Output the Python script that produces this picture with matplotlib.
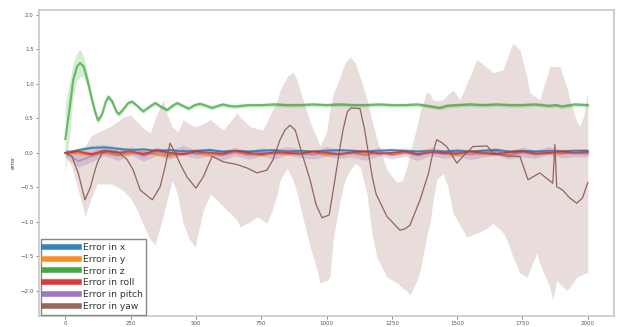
import numpy as np
from matplotlib import pyplot as plt

# error in z (green)
z_t = [0, 15, 30, 45, 57, 70, 85, 100, 115, 125, 140, 155, 165, 180, 195, 205, 220, 240,
       256, 275, 298, 320, 344, 365, 390, 410, 428, 450, 472, 495, 516, 540, 562, 585,
       604, 625, 650, 700, 750, 800, 850, 900, 950, 1000, 1050, 1100, 1150, 1200, 1250,
       1300, 1350, 1400, 1434, 1460, 1500, 1550, 1600, 1650, 1700, 1750, 1800, 1850,
       1880, 1900, 1950, 2000]
z_mean = [0.20, 0.60, 1.05, 1.25, 1.30, 1.25, 1.05, 0.80, 0.58, 0.47, 0.55, 0.74, 0.81,
          0.74, 0.60, 0.56, 0.62, 0.72, 0.74, 0.68, 0.60, 0.66, 0.72, 0.67, 0.62, 0.68,
          0.72, 0.68, 0.64, 0.69, 0.71, 0.68, 0.65, 0.68, 0.70, 0.68, 0.67, 0.69, 0.69,
          0.70, 0.69, 0.69, 0.70, 0.69, 0.70, 0.69, 0.69, 0.70, 0.69, 0.69, 0.70, 0.67,
          0.65, 0.68, 0.69, 0.70, 0.69, 0.70, 0.69, 0.69, 0.70, 0.68, 0.69, 0.67, 0.70, 0.69]
z_sd = [0.50, 0.40, 0.25, 0.20, 0.20, 0.15, 0.10, 0.08, 0.06, 0.05, 0.04, 0.04, 0.04,
        0.04, 0.04, 0.04, 0.03, 0.03, 0.03, 0.03, 0.03, 0.03, 0.03, 0.03, 0.03, 0.03,
        0.03, 0.03, 0.03, 0.03, 0.03, 0.03, 0.03, 0.03, 0.03, 0.03, 0.03, 0.03, 0.03,
        0.03, 0.03, 0.03, 0.03, 0.03, 0.03, 0.03, 0.03, 0.03, 0.03, 0.03, 0.03, 0.03,
        0.03, 0.03, 0.03, 0.03, 0.03, 0.03, 0.03, 0.03, 0.03, 0.03, 0.03, 0.03, 0.03, 0.03]

# error in yaw (brown) mean line
yaw_t = [0, 25, 50, 75, 96, 110, 122, 141, 170, 200, 237, 260, 287, 333, 363, 382, 401,
         420, 445, 466, 500, 528, 562, 604, 658, 696, 734, 772, 795, 822, 841, 860, 880,
         910, 937, 960, 983, 1010, 1032, 1052, 1063, 1080, 1095, 1128, 1145, 1160, 1175,
         1190, 1231, 1281, 1300, 1319, 1358, 1390, 1407, 1422, 1440, 1460, 1499, 1522,
         1560, 1614, 1637, 1690, 1740, 1771, 1816, 1866, 1874, 1881, 1904, 1930, 1958,
         1980, 2000]
yaw_mean = [0.00, -0.05, -0.30, -0.68, -0.50, -0.30, -0.15, 0.00, 0.03, 0.02, -0.10,
            -0.25, -0.54, -0.68, -0.49, -0.20, 0.14, 0.00, -0.20, -0.35, -0.51, -0.35,
            -0.05, -0.13, -0.17, -0.22, -0.29, -0.25, -0.10, 0.19, 0.33, 0.40, 0.33,
            -0.06, -0.39, -0.75, -0.94, -0.90, -0.39, 0.09, 0.33, 0.60, 0.65, 0.64, 0.35,
            0.00, -0.35, -0.60, -0.92, -1.12, -1.10, -1.05, -0.68, -0.30, 0.00, 0.19,
            0.15, 0.09, -0.15, -0.05, 0.09, 0.10, 0.00, -0.05, -0.05, -0.39, -0.29,
            -0.44, 0.12, -0.49, -0.54, -0.65, -0.73, -0.65, -0.43]

# yaw spread band (upper / lower edge)
band_t = [0, 25, 50, 76, 100, 122, 172, 199, 222, 249, 275, 300, 325, 344, 375, 390, 409,
          430, 451, 475, 497, 528, 555, 581, 604, 631, 658, 669, 707, 734, 757, 772, 790,
          811, 822, 849, 872, 887, 910, 937, 964, 975, 1000, 1013, 1025, 1052, 1070, 1090,
          1110, 1128, 1155, 1175, 1193, 1231, 1270, 1290, 1308, 1319, 1346, 1358, 1384,
          1396, 1407, 1422, 1446, 1465, 1484, 1511, 1537, 1576, 1610, 1637, 1675, 1690,
          1713, 1740, 1767, 1778, 1805, 1816, 1843, 1855, 1866, 1881, 1893, 1920, 1931,
          1958, 1969, 1985, 1996, 2000]
band_hi = [0.05, 0.05, 0.05, 0.10, 0.25, 0.29, 0.38, 0.45, 0.52, 0.55, 0.45, 0.35, 0.29,
           0.50, 0.77, 0.55, 0.38, 0.30, 0.48, 0.42, 0.38, 0.42, 0.48, 0.40, 0.33, 0.45,
           0.58, 0.52, 0.38, 0.35, 0.33, 0.45, 0.60, 0.75, 0.90, 1.10, 1.17, 1.05, 0.77,
           0.45, 0.20, 0.10, 0.30, 0.62, 0.85, 1.10, 1.30, 1.39, 1.30, 1.10, 0.77, 0.45,
           0.19, -0.25, -0.43, -0.40, -0.20, 0.00, 0.38, 0.60, 0.88, 0.85, 0.77, 0.75,
           0.77, 0.85, 0.91, 0.77, 1.00, 1.35, 1.25, 1.16, 1.20, 1.35, 1.59, 1.49, 1.10,
           0.87, 0.80, 0.77, 1.10, 1.25, 1.25, 1.25, 1.25, 0.95, 0.77, 0.45, 0.38, 0.55,
           0.81, 0.85]
band_lo = [-0.05, -0.20, -0.55, -0.92, -0.65, -0.45, -0.45, -0.49, -0.55, -0.65, -0.83,
           -1.05, -1.25, -1.33, -0.90, -0.68, -0.40, -0.60, -1.02, -1.25, -1.36, -0.83,
           -0.60, -0.68, -0.78, -0.87, -0.98, -1.07, -1.00, -0.93, -0.98, -1.02, -0.85,
           -0.60, -0.40, -0.22, -0.40, -0.58, -0.95, -1.36, -1.70, -1.88, -1.85, -1.80,
           -1.26, -0.68, -0.40, -0.25, -0.15, -0.20, -0.60, -1.20, -1.51, -1.80, -1.88,
           -1.95, -2.00, -2.06, -1.85, -1.70, -1.20, -1.02, -0.70, -0.39, -0.30, -0.50,
           -0.87, -1.05, -1.22, -1.16, -1.10, -1.02, -1.15, -1.26, -1.50, -1.74, -1.80,
           -1.70, -1.45, -1.60, -1.84, -1.95, -2.13, -1.84, -1.90, -1.99, -1.95, -1.80,
           -1.78, -1.75, -1.74, -1.74]

# small errors, every 50 steps
t50 = list(range(0, 2001, 50))
x_err = [0.0, 0.04, 0.07, 0.08, 0.06, 0.04, 0.05, 0.03, 0.04, 0.02, 0.03, 0.04, 0.02, 0.03,
         0.02, 0.03, 0.04, 0.02, 0.03, 0.02, 0.03, 0.04, 0.03, 0.02, 0.03, 0.04, 0.03, 0.02,
         0.03, 0.02, 0.03, 0.02, 0.03, 0.04, 0.02, 0.03, 0.02, 0.03, 0.02, 0.03, 0.03]
y_err = [0.0, -0.01, -0.02, 0.0, -0.03, -0.01, 0.01, -0.02, -0.04, -0.01, 0.0, -0.03, -0.02,
         0.01, -0.02, -0.03, 0.0, -0.02, -0.01, 0.01, -0.03, -0.01, 0.0, -0.02, 0.01, -0.03,
         0.0, -0.02, 0.02, -0.01, -0.03, 0.01, -0.02, 0.0, -0.03, 0.01, -0.02, 0.0, -0.01,
         0.01, -0.01]
roll_err = [0.0, 0.02, -0.02, 0.03, 0.0, 0.02, -0.02, 0.04, 0.0, -0.02, 0.02, 0.0, -0.01,
            0.03, 0.0, -0.02, 0.01, 0.0, -0.01, 0.02, 0.0, -0.02, 0.01, 0.02, -0.01, 0.0,
            0.02, -0.02, 0.01, 0.0, -0.01, 0.02, 0.0, -0.02, 0.01, 0.02, -0.01, 0.0, 0.02,
            0.0, 0.01]
pitch_err = [0.0, -0.12, -0.05, 0.02, -0.04, 0.03, -0.05, 0.02, -0.03, 0.04, -0.02, 0.01,
             -0.04, 0.02, -0.03, 0.01, -0.02, 0.03, -0.01, -0.03, 0.02, -0.02, 0.0, -0.04,
             0.02, -0.03, 0.01, -0.04, 0.02, -0.02, 0.01, -0.03, 0.0, 0.02, -0.03, 0.01,
             -0.02, 0.03, -0.01, 0.0, 0.0]
x_sd = [0.02, 0.03, 0.04, 0.04, 0.03, 0.03, 0.03, 0.02, 0.03, 0.02, 0.02, 0.03, 0.02, 0.02,
        0.02, 0.03, 0.02, 0.02, 0.02, 0.02, 0.03, 0.02, 0.02, 0.02, 0.02, 0.03, 0.02, 0.02,
        0.02, 0.02, 0.02, 0.02, 0.03, 0.02, 0.02, 0.02, 0.02, 0.02, 0.02, 0.02, 0.02]
y_sd = [0.02, 0.02, 0.03, 0.03, 0.02, 0.02, 0.02, 0.02, 0.03, 0.02, 0.02, 0.02, 0.02, 0.02,
        0.02, 0.02, 0.02, 0.02, 0.02, 0.02, 0.02, 0.02, 0.02, 0.02, 0.02, 0.02, 0.02, 0.02,
        0.02, 0.02, 0.02, 0.02, 0.02, 0.02, 0.02, 0.02, 0.02, 0.02, 0.02, 0.02, 0.02]
roll_sd = [0.02, 0.03, 0.03, 0.03, 0.02, 0.02, 0.02, 0.03, 0.02, 0.02, 0.02, 0.02, 0.02,
           0.02, 0.02, 0.02, 0.02, 0.02, 0.02, 0.02, 0.02, 0.02, 0.02, 0.02, 0.02, 0.02,
           0.02, 0.02, 0.02, 0.02, 0.02, 0.02, 0.02, 0.02, 0.02, 0.02, 0.02, 0.02, 0.02,
           0.02, 0.02]
pitch_sd = [0.05, 0.09, 0.08, 0.06, 0.07, 0.06, 0.07, 0.06, 0.06, 0.07, 0.06, 0.06, 0.07,
            0.06, 0.06, 0.06, 0.07, 0.06, 0.06, 0.06, 0.07, 0.06, 0.06, 0.07, 0.06, 0.06,
            0.06, 0.07, 0.06, 0.06, 0.06, 0.07, 0.06, 0.06, 0.06, 0.07, 0.06, 0.06, 0.06,
            0.06, 0.06]

labels = ["Error in x", "Error in y", "Error in z", "Error in roll", "Error in pitch", "Error in yaw"]
colors = ["#1f77b4", "#ff7f0e", "#2ca02c", "#d62728", "#9467bd", "#8c564b"]

fig = plt.figure(figsize=(6.22, 3.27), dpi=100)
ax = fig.add_axes([0.063, 0.034, 0.924, 0.936])

def band(t, m, s, c, a):
    m = np.array(m)
    s = np.array(s)
    ax.fill_between(t, m - s, m + s, color=c, alpha=a, linewidth=0)

# order in legend: x, y, z, roll, pitch, yaw
ax.plot(t50, x_err, color=colors[0], lw=1.3, alpha=0.85, label=labels[0])
band(t50, x_err, x_sd, colors[0], 0.2)
ax.plot(t50, y_err, color=colors[1], lw=1.3, alpha=0.85, label=labels[1])
band(t50, y_err, y_sd, colors[1], 0.2)
ax.plot(z_t, z_mean, color=colors[2], lw=1.6, alpha=0.65, label=labels[2])
band(z_t, z_mean, z_sd, colors[2], 0.2)
ax.plot(t50, roll_err, color=colors[3], lw=1.3, alpha=0.85, label=labels[3])
band(t50, roll_err, roll_sd, colors[3], 0.2)
ax.plot(t50, pitch_err, color=colors[4], lw=1.0, alpha=0.6, label=labels[4])
band(t50, pitch_err, pitch_sd, colors[4], 0.25)
ax.plot(yaw_t, yaw_mean, color=colors[5], lw=0.9, alpha=0.9, label=labels[5])
ax.fill_between(band_t, band_lo, band_hi, color=colors[5], alpha=0.2, linewidth=0)

ax.set_xlim(-100, 2100)
ax.set_ylim(-2.36, 2.07)
ax.set_xticks([0, 250, 500, 750, 1000, 1250, 1500, 1750, 2000])
ax.set_yticks([-2.0, -1.5, -1.0, -0.5, 0.0, 0.5, 1.0, 1.5, 2.0])
ax.tick_params(labelsize=4, length=2, width=0.5, colors="#555555", pad=2)
ax.set_ylabel("error", fontsize=4, color="#444444", labelpad=3)
for sp in ax.spines.values():
    sp.set_color("#c8c8c8")
    sp.set_linewidth(1.2)

leg = ax.legend(loc="lower left", fontsize=6.6, handlelength=3.8, borderaxespad=0.15,
                fancybox=False, edgecolor="#888888", framealpha=1, labelspacing=0.3,
                handletextpad=0.4, borderpad=0.4)
for txt in leg.get_texts():
    txt.set_color("#333333")
for h in leg.legend_handles:
    h.set_linewidth(4)
    h.set_alpha(0.9)

plt.savefig("out.png", dpi=100)
